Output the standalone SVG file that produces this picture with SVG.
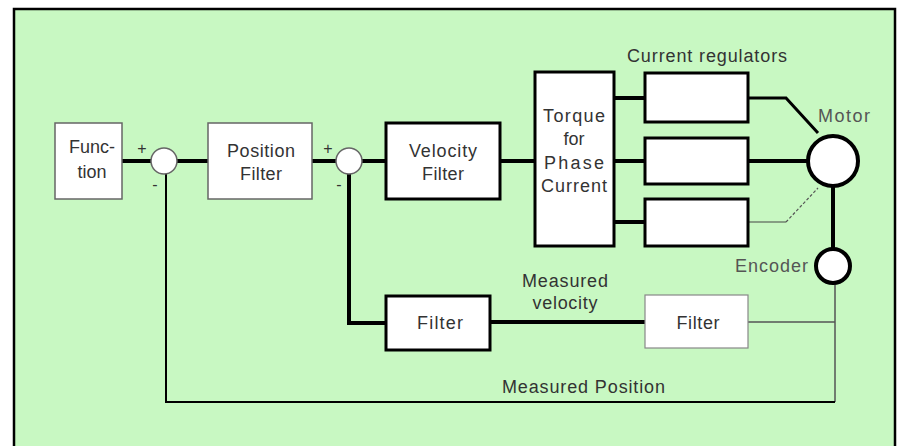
<svg xmlns="http://www.w3.org/2000/svg" width="901" height="446" viewBox="0 0 901 446">
<style>
.t{font-family:"Liberation Sans",Arial,sans-serif;font-size:18px;fill:#333}
.s{font-size:16px}
.g{fill:#555}
.thin{fill:#fff;stroke:#666;stroke-width:1.5}
.thick{fill:#fff;stroke:#000;stroke-width:3}
.w{fill:none;stroke:#000;stroke-width:4}
.w3{fill:none;stroke:#000;stroke-width:3}
.f{fill:none;stroke:#555;stroke-width:1.5}
</style>
<rect x="0" y="0" width="901" height="446" fill="#fff"/>
<rect x="14" y="9" width="881" height="450" fill="#c8f8c2" stroke="#000" stroke-width="2.5"/>
<g id="connectors">
<line class="w" x1="122" y1="161" x2="151" y2="161"/>
<line class="w" x1="177" y1="161" x2="208" y2="161"/>
<line class="w" x1="312" y1="161" x2="336" y2="161"/>
<line class="w" x1="362" y1="161" x2="386" y2="161"/>
<line class="w" x1="500" y1="161" x2="535" y2="161"/>
<line class="w" x1="614" y1="98" x2="645" y2="98"/>
<line class="w" x1="614" y1="161" x2="645" y2="161"/>
<line class="w" x1="614" y1="222" x2="645" y2="222"/>
<polyline class="w3" points="748,98 786,98 818,133"/>
<line class="w" x1="748" y1="161" x2="807" y2="161"/>
<polyline fill="none" stroke="#444" stroke-width="1.2" points="748,222 786,222"/>
<line stroke="#555" stroke-width="1.2" stroke-dasharray="3,2" x1="786" y1="222" x2="818" y2="188"/>
<line class="w" x1="833" y1="186" x2="833" y2="249"/>
<polyline class="f" points="835,284 835,402"/>
<polyline class="f" points="748,322 835,322"/>
<polyline fill="none" stroke="#000" stroke-width="2" points="835,402 166,402 166,174"/>
<polyline class="w" points="349,174 349,323 386,323"/>
<line class="w" x1="490" y1="322" x2="645" y2="322"/>
</g>
<g id="function"><rect class="thin" x="55" y="123" width="67" height="76"/>
<text class="t" x="92" y="153" text-anchor="middle">Func-</text>
<text class="t" x="92" y="178" text-anchor="middle">tion</text></g>
<g id="sum1"><circle class="thin" cx="164" cy="161" r="13"/>
<text class="t s" x="142" y="154" text-anchor="middle">+</text>
<text class="t s" x="155" y="190" text-anchor="middle">-</text></g>
<g id="position-filter"><rect class="thin" x="208" y="123" width="104" height="76"/>
<text class="t" x="261" y="157" text-anchor="middle" textLength="68" lengthAdjust="spacing">Position</text>
<text class="t" x="261" y="180" text-anchor="middle" textLength="42" lengthAdjust="spacing">Filter</text></g>
<g id="sum2"><circle class="thin" cx="349" cy="161" r="13"/>
<text class="t s" x="328" y="154" text-anchor="middle">+</text>
<text class="t s" x="339" y="190" text-anchor="middle">-</text></g>
<g id="velocity-filter"><rect class="thick" x="386" y="123" width="114" height="76"/>
<text class="t" x="443" y="157" text-anchor="middle" textLength="68" lengthAdjust="spacing">Velocity</text>
<text class="t" x="443" y="180" text-anchor="middle" textLength="42" lengthAdjust="spacing">Filter</text></g>
<g id="torque"><rect class="thick" x="535" y="72" width="79" height="174"/>
<text class="t" x="574" y="122" text-anchor="middle" textLength="62" lengthAdjust="spacing">Torque</text>
<text class="t" x="574" y="145" text-anchor="middle">for</text>
<text class="t" x="574" y="169" text-anchor="middle" textLength="60" lengthAdjust="spacing">Phase</text>
<text class="t" x="574" y="192" text-anchor="middle" textLength="66" lengthAdjust="spacing">Current</text></g>
<g id="current-regulators">
<text class="t" x="627" y="62" textLength="160" lengthAdjust="spacing">Current regulators</text>
<rect class="thick" x="645" y="73" width="103" height="49"/>
<rect class="thick" x="645" y="138" width="103" height="46"/>
<rect class="thick" x="645" y="199" width="103" height="47"/></g>
<g id="motor"><circle fill="#fff" stroke="#000" stroke-width="4" cx="833" cy="161" r="25"/>
<text class="t g" x="818" y="122" textLength="52" lengthAdjust="spacing">Motor</text></g>
<g id="encoder"><circle fill="#fff" stroke="#000" stroke-width="4" cx="833" cy="266" r="17"/>
<text class="t g" x="808" y="272" text-anchor="end" textLength="73" lengthAdjust="spacing">Encoder</text></g>
<g id="filter-velocity"><rect class="thick" x="386" y="296" width="104" height="54"/>
<text class="t" x="440" y="329" text-anchor="middle" textLength="46" lengthAdjust="spacing">Filter</text></g>
<g id="filter-position"><rect fill="#fff" stroke="#888" stroke-width="1.2" x="645" y="295" width="103" height="53"/>
<text class="t" x="698" y="329" text-anchor="middle" textLength="43" lengthAdjust="spacing">Filter</text></g>
<g id="labels">
<text class="t" x="565" y="287" text-anchor="middle" textLength="86" lengthAdjust="spacing">Measured</text>
<text class="t" x="565" y="309" text-anchor="middle" textLength="65" lengthAdjust="spacing">velocity</text>
<text class="t" x="502" y="393" textLength="163" lengthAdjust="spacing">Measured Position</text>
</g>
</svg>
